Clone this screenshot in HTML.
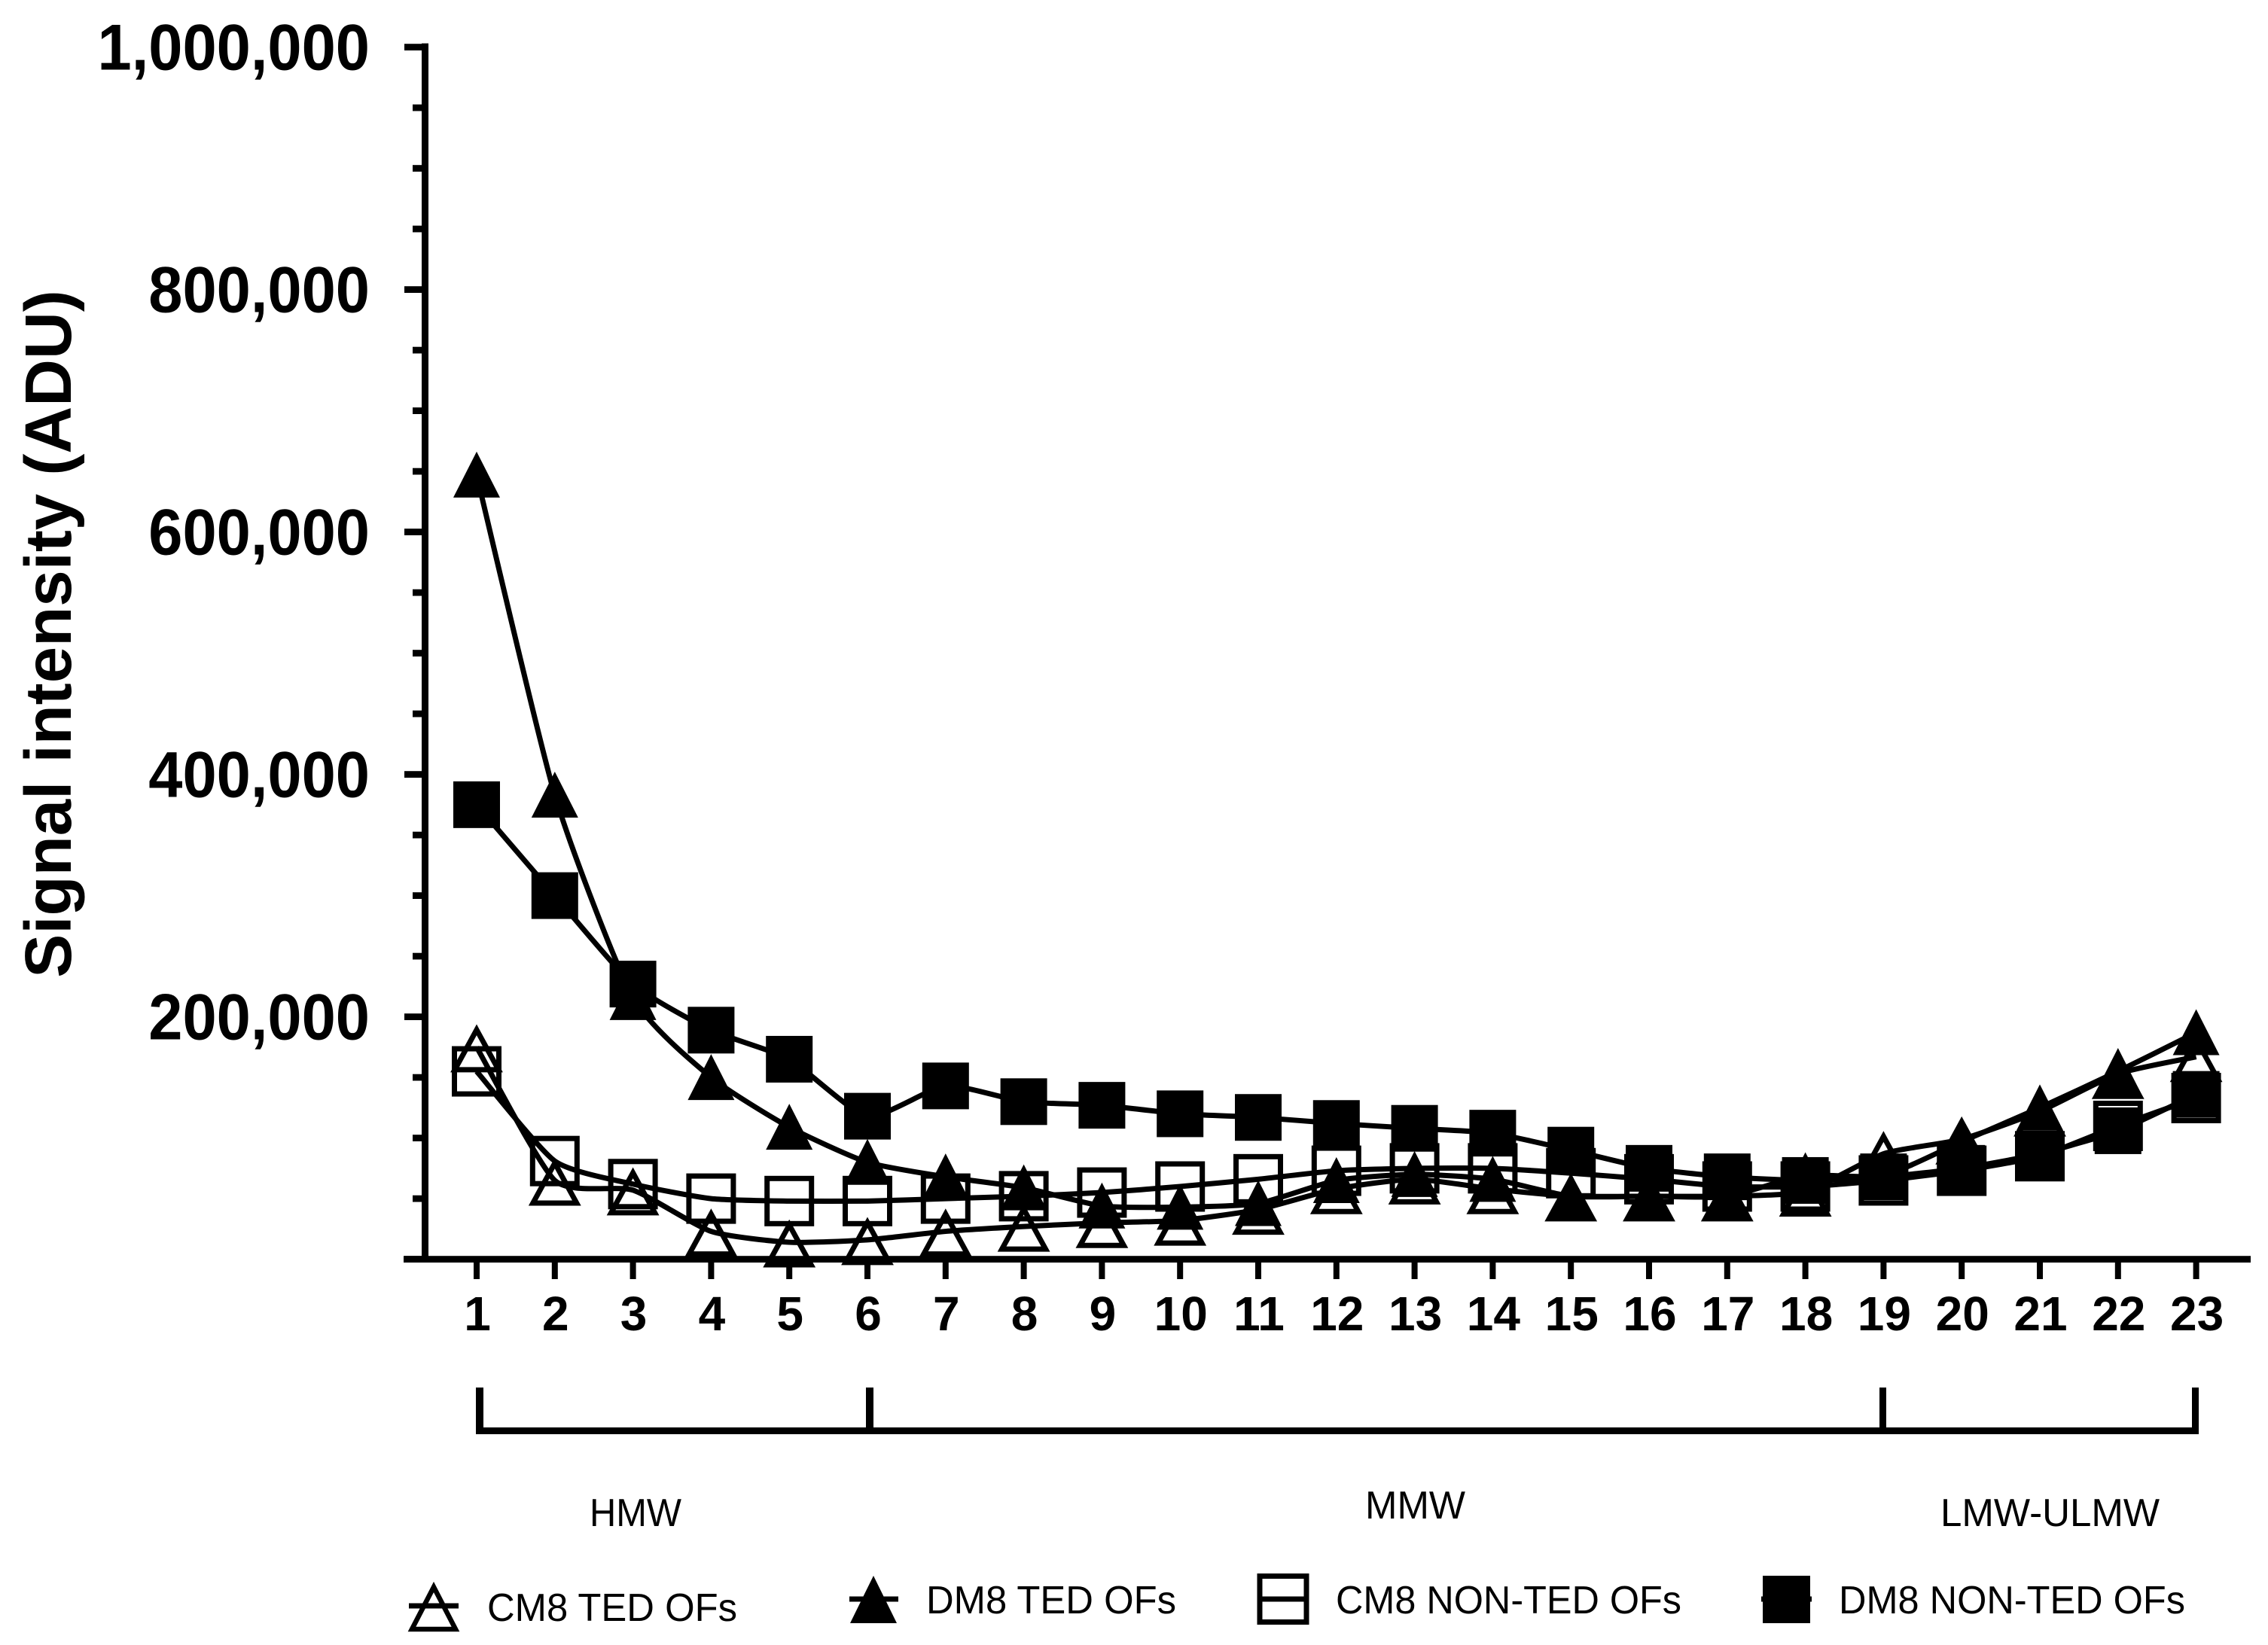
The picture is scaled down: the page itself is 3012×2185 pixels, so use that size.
<!DOCTYPE html>
<html>
<head>
<meta charset="utf-8">
<title>Signal intensity chart</title>
<style>
html,body{margin:0;padding:0;background:#fff;}
svg{display:block;}
text{fill:#000;font-family:"Liberation Sans",sans-serif;}
.b{font-weight:bold;}
</style>
</head>
<body>
<svg id="chart" xmlns="http://www.w3.org/2000/svg" width="3012" height="2185" viewBox="0 0 3012 2185">
  <rect x="0" y="0" width="3012" height="2185" fill="#fff"/>
  <text class="b" font-size="87" text-anchor="middle" transform="translate(94,842) rotate(-90)">Signal intensity (ADU)</text>
  <g id="axes"></g>
  <g id="series"></g>

  <g fill="#000">
    <rect x="632" y="1896" width="2288" height="9"/>
    <rect x="632" y="1843" width="10" height="60"/>
    <rect x="1150" y="1843" width="10" height="60"/>
    <rect x="2496" y="1843" width="9" height="60"/>
    <rect x="2911" y="1843" width="9" height="60"/>
  </g>
  <text x="783" y="2027" font-size="52" textLength="122" lengthAdjust="spacingAndGlyphs">HMW</text>
  <text x="1813" y="2017" font-size="52" textLength="133" lengthAdjust="spacingAndGlyphs">MMW</text>
  <text x="2577" y="2027" font-size="52" textLength="291" lengthAdjust="spacingAndGlyphs">LMW-ULMW</text>

  <g>
    <g>
      <line x1="543" x2="609" y1="2133" y2="2133" stroke="#000" stroke-width="7"/>
      <polygon points="576,2108 547,2164 605,2164" fill="none" stroke="#000" stroke-width="6.5"/>
      <text x="647" y="2153" font-size="52" textLength="332" lengthAdjust="spacingAndGlyphs">CM8 TED OFs</text>
    </g>
    <g>
      <line x1="1128" x2="1193" y1="2124" y2="2124" stroke="#000" stroke-width="7"/>
      <polygon points="1160,2093 1129,2156 1191,2156" fill="#000"/>
      <text x="1230" y="2143" font-size="52" textLength="332" lengthAdjust="spacingAndGlyphs">DM8 TED OFs</text>
    </g>
    <g>
      <line x1="1670" x2="1738" y1="2124" y2="2124" stroke="#000" stroke-width="7"/>
      <rect x="1673" y="2093.5" width="62" height="61" fill="none" stroke="#000" stroke-width="7"/>
      <text x="1774" y="2143" font-size="52" textLength="459" lengthAdjust="spacingAndGlyphs">CM8 NON-TED OFs</text>
    </g>
    <g>
      <line x1="2339" x2="2406" y1="2124" y2="2124" stroke="#000" stroke-width="7"/>
      <rect x="2341" y="2093" width="63" height="63" fill="#000"/>
      <text x="2442" y="2143" font-size="52" textLength="460" lengthAdjust="spacingAndGlyphs">DM8 NON-TED OFs</text>
    </g>
  </g>
</svg>
<script>
var categories = [1,2,3,4,5,6,7,8,9,10,11,12,13,14,15,16,17,18,19,20,21,22,23];
var cm8Ted = [175000,65000,57000,23000,14000,16000,23000,27000,30000,32000,41000,58000,66000,58000,52000,52000,52000,56000,87000,99000,122000,153000,167000];
var dm8Ted = [647000,383000,216000,150000,109000,80000,68000,59000,44000,43000,46000,65000,70000,66000,52000,52000,52000,69000,69000,97000,125000,155000,187000];
var cm8NonTed = [155000,81000,62000,50000,48000,48000,50000,52000,55000,60000,66000,73000,75000,75000,71000,66000,60000,60000,65000,73000,85000,110000,133000];
var dm8NonTed = [375000,300000,227000,189000,165000,118000,143000,130000,127000,120000,117000,112000,108000,104000,90000,75000,68000,65000,68000,75000,87000,106000,136000];
var yTickValues = [0,50000,100000,150000,200000,250000,300000,350000,400000,450000,500000,550000,600000,650000,700000,750000,800000,850000,900000,950000,1000000];
var yTickLabels = ["200,000","400,000","600,000","800,000","1,000,000"];
var yLabelValues = [200000,400000,600000,800000,1000000];

var NS = "http://www.w3.org/2000/svg";
function xScale(c){ return 633 + (c - 1) * 103.8; }
function yScale(v){ return 1672.6 - v * 0.00161; }
function make(tag, attrs, parent){
  var el = document.createElementNS(NS, tag);
  for (var k in attrs) { el.setAttribute(k, attrs[k]); }
  parent.appendChild(el);
  return el;
}
function smoothPath(vals){
  var pts = vals.map(function(v,i){ return [xScale(categories[i]), yScale(v)]; });
  var d = "M" + pts[0][0] + " " + pts[0][1];
  for (var i = 0; i < pts.length - 1; i++) {
    var p0 = pts[Math.max(i-1,0)], p1 = pts[i], p2 = pts[i+1], p3 = pts[Math.min(i+2,pts.length-1)];
    var c1x = p1[0] + (p2[0]-p0[0])/10, c1y = p1[1] + (p2[1]-p0[1])/10;
    var c2x = p2[0] - (p3[0]-p1[0])/10, c2y = p2[1] - (p3[1]-p1[1])/10;
    d += " C" + c1x + " " + c1y + " " + c2x + " " + c2y + " " + p2[0] + " " + p2[1];
  }
  return d;
}

var axes = document.getElementById("axes");
var yAxisLine = make("rect", {x:560,y:57.6,width:9,height:1619,fill:"#000"}, axes);


var xAxisLine = make("rect", {x:536,y:1668.2,width:2453,height:8.8,fill:"#000"}, axes);



yTickValues.forEach(function(v){
  var major = v % 200000 === 0;
  var left = major ? 537 : 548;
  var t = make("rect", {x:left,y:yScale(v)-4.4,width:562-left,height:8.8,fill:"#000"}, axes);
  
  
});
yLabelValues.forEach(function(v,i){
  var t = make("text", {"class":"b","font-size":86,"text-anchor":"end",transform:"translate(491," + (yScale(v)+30) + ") scale(0.945,1)"}, axes);
  t.textContent = yTickLabels[i];
  
  
});
categories.forEach(function(c){
  var x = xScale(c);
  var t = make("rect", {x:x-4,y:1675,width:8,height:24,fill:"#000"}, axes);
  
  
  var l = make("text", {"class":"b","font-size":64,"text-anchor":"middle",x:x+1,y:1767}, axes);
  l.textContent = String(c);
  
  
});

var layer = document.getElementById("series");
function drawLine(vals, key){
  var p = make("path", {d:smoothPath(vals),fill:"none",stroke:"#000","stroke-width":7,"stroke-linejoin":"round"}, layer);
  
  
}
function drawOpenTri(vals, key){
  vals.forEach(function(v,i){
    var x = xScale(categories[i]), y = yScale(v);
    var m = make("polygon", {points:(x)+","+(y-23)+" "+(x-29)+","+(y+30)+" "+(x+29)+","+(y+30),fill:"none",stroke:"#000","stroke-width":7,"stroke-miterlimit":10}, layer);
    
    
  });
}
function drawFilledTri(vals, key){
  vals.forEach(function(v,i){
    var x = xScale(categories[i]), y = yScale(v);
    var m = make("polygon", {points:x+","+(y-31)+" "+(x-31)+","+(y+30)+" "+(x+31)+","+(y+30),fill:"#000"}, layer);
    
    
  });
}
function drawOpenSq(vals, key){
  vals.forEach(function(v,i){
    var x = xScale(categories[i]), y = yScale(v);
    var m = make("rect", {x:x-29.5,y:y-30,width:59,height:60,fill:"none",stroke:"#000","stroke-width":7}, layer);
    
    
  });
}
function drawFilledSq(vals, key){
  vals.forEach(function(v,i){
    var x = xScale(categories[i]), y = yScale(v);
    var m = make("rect", {x:x-31,y:y-31,width:62,height:62,fill:"#000"}, layer);
    
    
  });
}
drawLine(cm8Ted, "cm8-ted");
drawLine(cm8NonTed, "cm8-non-ted");
drawLine(dm8Ted, "dm8-ted");
drawLine(dm8NonTed, "dm8-non-ted");
drawOpenTri(cm8Ted, "cm8-ted");
drawOpenSq(cm8NonTed, "cm8-non-ted");
drawFilledTri(dm8Ted, "dm8-ted");
drawFilledSq(dm8NonTed, "dm8-non-ted");
</script>
</body>
</html>
